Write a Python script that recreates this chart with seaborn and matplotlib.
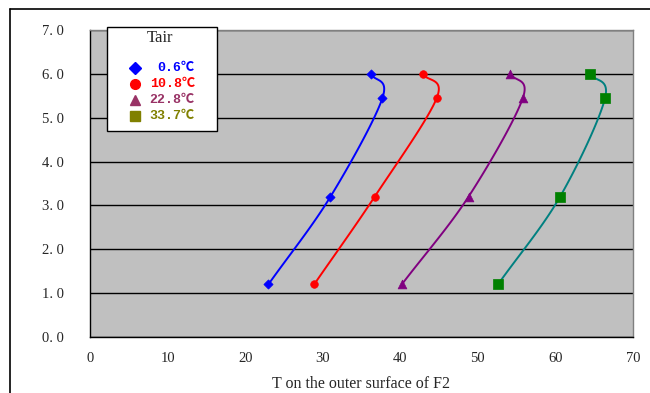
import numpy as np
import pandas as pd
import matplotlib
matplotlib.use("Agg")
import matplotlib.pyplot as plt
from matplotlib.patches import Rectangle
from matplotlib.lines import Line2D
import seaborn as sns

# ---- data ----
height = [1.2, 3.2, 5.45, 6.0]
t_air_labels = ["0.6℃", "10.8℃", "22.8℃", "33.7℃"]
t_06 = [23.0, 31.0, 37.7, 36.2]
t_108 = [28.9, 36.7, 44.7, 42.9]
t_228 = [40.2, 48.8, 55.8, 54.2]
t_337 = [52.6, 60.6, 66.4, 64.4]
x_ticks = [0, 10, 20, 30, 40, 50, 60, 70]
y_ticks = [0.0, 1.0, 2.0, 3.0, 4.0, 5.0, 6.0, 7.0]

series = [t_06, t_108, t_228, t_337]
line_colors = ["#0000FF", "#FF0000", "#800080", "#008080"]
marker_colors = ["#0000FF", "#FF0000", "#800080", "#008000"]
markers = ["D", "o", "^", "s"]
msizes = [22, 30, 40, 60]
leg_colors = ["#0000FF", "#FF0000", "#993366", "#808000"]


def smooth(xs, ys, n=40):
    """Catmull-Rom style smoothing through the given points (for drawing)."""
    P = np.column_stack([xs, ys]).astype(float)
    P = np.vstack([P[0] - (P[1] - P[0]), P, P[-1] + (P[-1] - P[-2])])
    out = []
    for i in range(1, len(P) - 2):
        p0, p1, p2, p3 = P[i - 1], P[i], P[i + 1], P[i + 2]
        c1 = p1 + (p2 - p0) / 6.0
        c2 = p2 - (p3 - p1) / 6.0
        t = np.linspace(0, 1, n)[:, None]
        seg = ((1 - t) ** 3) * p1 + 3 * ((1 - t) ** 2) * t * c1 + 3 * (1 - t) * t ** 2 * c2 + t ** 3 * p2
        out.append(seg if i == 1 else seg[1:])
    out = np.vstack(out)
    return out[:, 0], out[:, 1]


sns.set_style("white")
plt.rcParams["font.family"] = ["Liberation Serif", "DejaVu Sans"]

W, H = 650, 393
fig = plt.figure(figsize=(6.5, 3.93), dpi=100)
ax = fig.add_axes([90 / W, 1 - 337 / H, (633 - 90) / W, (337 - 30) / H])
ax.set_facecolor("#C0C0C0")

for xs, lc, mc, mk, ms in zip(series, line_colors, marker_colors, markers, msizes):
    sx, sy = smooth(xs, height)
    df_line = pd.DataFrame({"x": sx, "y": sy, "o": np.arange(len(sx))})
    sns.lineplot(data=df_line, x="x", y="y", sort=False, estimator=None,
                 color=lc, linewidth=1.4, ax=ax, zorder=3)
    df_pts = pd.DataFrame({"x": xs, "y": height})
    sns.scatterplot(data=df_pts, x="x", y="y", marker=mk, s=ms, color=mc,
                    edgecolor=mc, linewidth=0.5, ax=ax, zorder=4)

ax.set_xlim(0, 70)
ax.set_ylim(0, 7)
ax.set_xticks(x_ticks)
ax.set_xticklabels([str(v) for v in x_ticks], fontsize=10.5)
ax.set_yticks(y_ticks)
ax.set_yticklabels([f"{v:.1f}".replace(".", ". ") for v in y_ticks], fontsize=10.5)
ax.yaxis.grid(True, color="#000000", linewidth=1.0)
ax.set_axisbelow(True)
ax.tick_params(axis="x", direction="in", length=4, width=0.8, color="#000000", pad=11)
ax.tick_params(axis="y", direction="out", length=3, width=0.8, color="#000000", pad=16)
for side in ["top", "right"]:
    ax.spines[side].set_color("#808080")
    ax.spines[side].set_linewidth(1.0)
for side in ["left", "bottom"]:
    ax.spines[side].set_color("#000000")
    ax.spines[side].set_linewidth(1.0)
ax.set_xlabel("T on the outer surface of F2", fontsize=11.5, labelpad=8)
ax.set_ylabel("")

# outer chart frame
fig.add_artist(Line2D([10 / W, 10 / W], [0, 1 - 9 / H], transform=fig.transFigure,
                      color="black", linewidth=1.2))
fig.add_artist(Line2D([10 / W, 1.0], [1 - 9 / H, 1 - 9 / H], transform=fig.transFigure,
                      color="black", linewidth=1.2))


def fx(px):
    return px / W


def fy(py):
    return 1 - py / H


# legend box (manual, to match the reference layout)
fig.add_artist(Rectangle((fx(107), fy(131)), fx(217) - fx(107), fy(27) - fy(131),
                         transform=fig.transFigure, facecolor="white",
                         edgecolor="black", linewidth=1.0, zorder=5))
fig.text(fx(160), fy(38), "Tair", ha="center", va="center", fontsize=12, zorder=6)
rows = [68, 84, 100, 116]
for lab, col, mk, py in zip(t_air_labels, leg_colors, markers, rows):
    fig.add_artist(Line2D([fx(135)], [fy(py)], marker=mk, markersize=7 if mk != "D" else 6,
                          color=col, markeredgecolor=col, linestyle="none",
                          transform=fig.transFigure, zorder=6))
    fig.text(fx(195), fy(py), lab, ha="right", va="center", fontsize=9.5,
             fontweight="bold", color=col,
             family=["Liberation Mono", "Noto Sans CJK SC"], zorder=6)

fig.savefig("out.png", dpi=100)
